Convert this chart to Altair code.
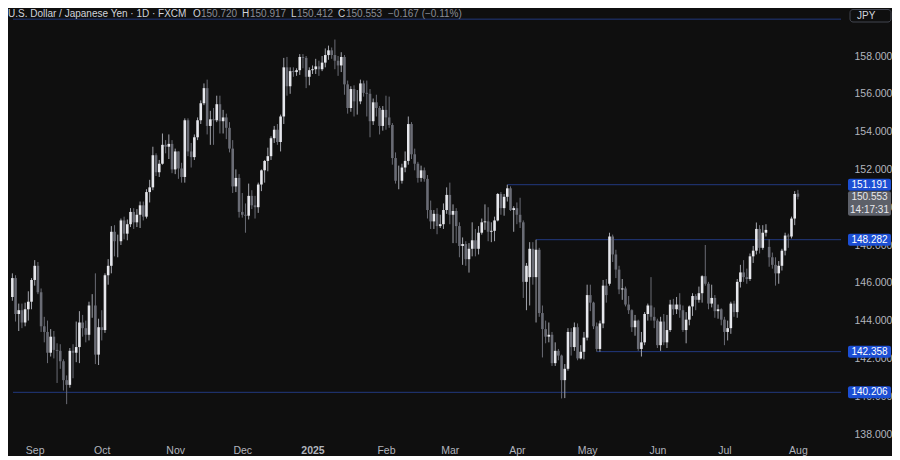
import altair as alt
import pandas as pd

# ---------------- data: daily USD/JPY candles (open, high, low, close) ----------------
AUG24 = [(145.25, 146.50, 145.05, 146.25), (146.25, 146.40, 143.95, 144.35), (144.35, 144.90, 143.45, 144.55),
         (144.55, 144.90, 143.60, 143.90), (143.90, 144.95, 143.70, 144.60), (144.60, 145.55, 144.00, 145.00),
         (145.00, 146.25, 144.60, 146.15)]
SEP24 = [(146.15, 147.20, 145.85, 146.90), (146.90, 147.10, 145.40, 145.50), (145.50, 145.70, 143.40, 143.70),
         (143.70, 144.20, 142.85, 143.40), (143.40, 144.00, 141.75, 142.30), (142.30, 143.55, 142.10, 143.15),
         (143.15, 143.45, 142.00, 142.45), (142.45, 142.80, 140.70, 142.40), (142.40, 142.75, 141.45, 141.85),
         (141.85, 141.95, 140.30, 140.85), (140.85, 141.10, 139.58, 140.60), (140.60, 142.55, 140.45, 142.40),
         (142.40, 142.75, 140.95, 142.30), (142.30, 143.95, 141.80, 142.60), (142.60, 144.50, 141.75, 143.90),
         (143.90, 144.30, 143.15, 143.60), (143.60, 144.00, 142.85, 143.25), (143.25, 145.00, 142.95, 144.80),
         (144.80, 145.40, 144.15, 144.80), (144.80, 146.50, 141.70, 142.20), (142.20, 144.10, 141.65, 143.65)]
OCT24 = [(143.65, 144.55, 142.95, 143.50), (143.50, 146.50, 143.35, 146.40), (146.40, 147.25, 145.90, 146.90),
         (146.90, 149.00, 146.50, 148.70), (148.70, 149.05, 147.40, 148.20), (148.20, 148.55, 147.35, 148.20),
         (148.20, 149.40, 148.00, 149.30), (149.30, 149.50, 148.30, 148.60), (148.60, 149.35, 148.25, 149.10),
         (149.10, 149.95, 148.95, 149.75), (149.75, 149.95, 148.85, 149.20), (149.20, 149.90, 148.95, 149.60),
         (149.60, 150.30, 148.90, 150.10), (150.10, 150.30, 149.30, 149.50), (149.50, 150.95, 149.40, 150.80),
         (150.80, 151.45, 150.25, 151.05), (151.05, 153.20, 150.90, 152.75), (152.75, 152.85, 151.65, 151.85),
         (151.85, 152.50, 151.60, 152.30), (152.30, 153.90, 152.25, 153.30), (153.30, 153.55, 152.85, 153.20),
         (153.20, 153.85, 152.55, 153.35), (153.35, 153.55, 151.80, 152.00)]
NOV24 = [(152.00, 153.10, 151.75, 152.95), (152.95, 152.95, 151.50, 152.05), (152.05, 152.35, 151.30, 151.60),
         (151.60, 154.70, 151.30, 154.60), (154.60, 154.70, 152.70, 152.95), (152.95, 153.40, 152.10, 152.65),
         (152.65, 153.85, 152.50, 153.70), (153.70, 154.75, 153.55, 154.60), (154.60, 155.65, 154.40, 155.50),
         (155.50, 156.55, 155.40, 156.30), (156.30, 156.75, 153.85, 154.30), (154.30, 155.10, 153.30, 154.65),
         (154.65, 155.25, 153.30, 154.60), (154.60, 155.90, 154.50, 155.45), (155.45, 155.90, 153.90, 154.55),
         (154.55, 155.15, 153.90, 154.75), (154.75, 154.95, 153.60, 154.20), (154.20, 154.50, 152.90, 153.10),
         (153.10, 153.55, 150.75, 151.10), (151.10, 152.00, 150.80, 151.55), (151.55, 151.75, 149.45, 149.75)]
DEC24 = [(149.75, 150.75, 149.45, 149.60), (149.60, 150.20, 148.65, 149.55), (149.55, 151.25, 149.35, 150.60),
         (150.60, 150.90, 149.90, 150.10), (150.10, 150.60, 149.40, 150.00), (150.00, 151.30, 149.70, 151.20),
         (151.20, 152.00, 150.85, 151.95), (151.95, 152.50, 151.30, 152.45), (152.45, 153.15, 151.90, 152.70),
         (152.70, 153.75, 152.50, 153.65), (153.65, 154.30, 153.40, 154.10), (154.10, 154.40, 153.30, 153.45),
         (153.45, 154.90, 152.95, 154.80), (154.80, 157.90, 154.40, 157.40), (157.40, 157.95, 155.90, 156.40),
         (156.40, 157.40, 156.00, 157.20), (157.20, 157.40, 156.90, 157.15), (157.15, 157.35, 156.95, 157.25),
         (157.25, 158.10, 157.00, 157.95), (157.95, 158.10, 157.35, 157.90), (157.90, 158.00, 156.30, 156.90),
         (156.90, 157.40, 156.45, 157.25)]
JAN25 = [(157.25, 157.50, 157.05, 157.30), (157.30, 157.85, 157.05, 157.45), (157.45, 157.75, 156.95, 157.30),
         (157.30, 158.00, 157.20, 157.65), (157.65, 158.40, 157.40, 158.05), (158.05, 158.55, 157.80, 158.30),
         (158.30, 158.45, 157.85, 158.05), (158.05, 158.87, 157.30, 157.75), (157.75, 158.00, 156.95, 157.50),
         (157.50, 158.20, 157.15, 157.95), (157.95, 158.05, 155.95, 156.50), (156.50, 156.70, 154.95, 155.25),
         (155.25, 156.40, 155.05, 156.25), (156.25, 156.45, 154.80, 155.60), (155.60, 156.20, 154.90, 155.60),
         (155.60, 156.75, 155.45, 156.55), (156.55, 156.70, 155.85, 156.05), (156.05, 156.70, 154.80, 156.00),
         (156.00, 156.25, 153.70, 154.55), (154.55, 155.75, 154.35, 155.55), (155.55, 155.95, 154.80, 155.25),
         (155.25, 155.35, 153.85, 154.30), (154.30, 155.35, 154.05, 155.15)]
FEB25 = [(155.15, 155.90, 154.10, 154.75), (154.75, 155.85, 154.20, 154.35), (154.35, 154.45, 152.25, 152.60),
         (152.60, 152.90, 151.25, 151.40), (151.40, 152.20, 150.95, 151.40), (151.40, 152.30, 151.25, 152.10),
         (152.10, 152.95, 151.85, 152.45), (152.45, 154.80, 152.25, 154.40), (154.40, 154.50, 152.55, 152.80),
         (152.80, 153.10, 151.95, 152.30), (152.30, 152.40, 151.30, 151.55), (151.55, 152.20, 151.35, 151.95),
         (151.95, 152.10, 151.35, 151.50), (151.50, 151.70, 149.40, 149.85), (149.85, 150.35, 148.85, 149.25),
         (149.25, 149.85, 148.85, 149.65), (149.65, 149.95, 148.57, 149.00), (149.00, 149.60, 148.90, 149.10),
         (149.10, 150.20, 148.85, 149.85), (149.85, 151.05, 149.65, 150.65)]
MAR25 = [(150.65, 151.30, 149.10, 149.60), (149.60, 150.15, 148.10, 149.80), (149.80, 149.95, 148.10, 149.00),
         (149.00, 149.20, 147.35, 147.95), (147.95, 148.40, 146.95, 148.05), (148.05, 148.20, 146.90, 147.25),
         (147.25, 148.10, 146.54, 147.80), (147.80, 149.20, 147.40, 148.25), (148.25, 148.85, 147.40, 147.80),
         (147.80, 149.00, 147.50, 148.65), (148.65, 149.40, 148.55, 149.20), (149.20, 150.15, 148.80, 149.25),
         (149.25, 150.00, 148.20, 148.70), (148.70, 149.20, 148.15, 148.75), (148.75, 149.50, 148.20, 149.30),
         (149.30, 150.75, 149.25, 150.70), (150.70, 150.80, 149.60, 149.95), (149.95, 150.70, 149.55, 150.55),
         (150.55, 151.19, 150.30, 151.00), (151.00, 151.10, 149.80, 149.85), (149.85, 150.05, 148.70, 149.95)]
APR25 = [(149.95, 150.25, 149.10, 149.60), (149.60, 150.50, 148.90, 149.20), (149.20, 149.30, 145.20, 146.05),
         (146.05, 147.05, 144.55, 146.90), (146.30, 148.15, 144.80, 147.80), (147.80, 148.15, 145.90, 146.30),
         (146.30, 148.28, 143.90, 147.75), (147.75, 147.85, 144.20, 144.40), (144.40, 144.80, 142.05, 143.55),
         (143.55, 144.00, 142.80, 143.15), (143.15, 143.90, 142.85, 143.25), (143.25, 143.40, 141.60, 141.75),
         (141.75, 142.85, 141.60, 142.40), (142.40, 142.50, 141.90, 142.15), (142.15, 142.20, 139.88, 140.85),
         (140.85, 141.70, 139.90, 141.45), (141.45, 143.60, 141.35, 143.40), (143.40, 143.60, 142.15, 142.60),
         (142.60, 143.90, 142.40, 143.65), (143.65, 143.85, 141.90, 142.00), (142.00, 142.70, 141.95, 142.35),
         (142.35, 143.40, 141.95, 143.10)]
MAY25 = [(143.10, 145.90, 142.95, 145.35), (145.35, 145.90, 144.50, 144.95), (144.95, 145.00, 143.55, 143.70),
         (143.70, 143.90, 142.36, 142.50), (142.50, 144.00, 142.35, 143.85), (143.85, 146.15, 143.60, 145.85),
         (145.85, 146.20, 144.95, 145.35), (145.95, 148.65, 145.85, 148.45), (148.45, 148.55, 147.10, 147.50),
         (147.50, 147.75, 146.25, 146.70), (146.70, 146.90, 145.40, 145.65), (145.65, 146.20, 145.10, 145.70),
         (145.70, 145.80, 144.75, 144.85), (144.85, 145.30, 144.35, 144.55), (144.55, 144.60, 143.40, 143.65),
         (143.65, 144.30, 143.20, 144.00), (144.00, 144.05, 142.40, 142.50), (142.50, 143.40, 142.10, 142.85),
         (142.85, 144.45, 142.70, 144.35), (144.35, 144.90, 144.00, 144.80), (144.80, 146.30, 144.00, 144.20),
         (144.20, 144.70, 143.60, 144.00)]
JUN25 = [(144.00, 144.10, 142.55, 142.70), (142.70, 144.20, 142.40, 143.95), (143.95, 144.35, 142.70, 142.85),
         (142.85, 144.30, 142.55, 143.50), (143.50, 145.10, 143.40, 144.85), (144.85, 145.15, 144.30, 144.60),
         (144.60, 145.25, 144.35, 144.85), (144.85, 145.45, 144.15, 144.55), (144.55, 144.80, 143.40, 143.50),
         (143.50, 144.45, 142.80, 144.05), (144.05, 144.80, 143.75, 144.75), (144.75, 145.45, 144.25, 145.30),
         (145.30, 145.40, 144.55, 145.10), (145.10, 145.80, 144.95, 145.45), (145.45, 146.40, 144.95, 146.35),
         (146.35, 148.00, 145.85, 145.95), (145.95, 146.05, 144.60, 144.90), (144.90, 145.90, 144.70, 145.20),
         (145.20, 145.35, 144.15, 144.50), (144.50, 144.85, 144.10, 144.60), (144.60, 144.65, 143.75, 144.05)]
JUL25 = [(144.05, 144.20, 142.70, 143.40), (143.40, 144.00, 142.95, 143.60), (143.60, 145.00, 143.30, 144.90),
         (144.90, 145.05, 144.20, 144.45), (144.45, 146.20, 144.15, 146.05), (146.05, 146.95, 145.75, 146.55),
         (146.55, 147.20, 146.05, 146.30), (146.30, 146.75, 145.95, 146.20), (146.20, 147.55, 146.10, 147.40),
         (147.40, 147.95, 147.05, 147.70), (147.70, 149.19, 147.50, 148.85), (148.85, 149.05, 147.55, 147.85),
         (147.85, 149.05, 147.75, 148.65), (148.65, 149.10, 148.45, 148.80), (147.90, 148.30, 146.85, 147.35),
         (147.35, 147.60, 146.75, 146.95), (146.95, 147.35, 145.85, 146.50), (146.50, 147.15, 145.95, 146.90),
         (146.90, 147.80, 146.65, 147.70), (147.70, 148.65, 147.45, 148.50), (148.50, 148.60, 147.85, 148.45),
         (148.45, 149.50, 148.35, 149.40), (149.40, 150.85, 149.05, 150.70)]
AUG25 = [(150.720, 150.917, 150.412, 150.553)]

MONTH_LABELS = ["Sep", "Oct", "Nov", "Dec", "2025", "Feb", "Mar", "Apr", "May", "Jun", "Jul", "Aug"]
PRICE_TICKS = [138, 140, 142, 144, 146, 148, 150, 152, 154, 156, 158]

LEVEL_PRICES = [159.95, 151.191, 148.282, 142.358, 140.206]
LEVEL_STARTS = [None, "2025-03-27", "2025-04-09", "2025-05-06", None]
LEVEL_LABELS = ["", "151.191", "148.282", "142.358", "140.206"]

LAST_PRICE = 150.553
LAST_PRICE_TEXT = "150.553"
COUNTDOWN = "14:17:31"
CURRENCY = "JPY"

HEADER_TITLE = "U.S. Dollar / Japanese Yen · 1D · FXCM"
OHLC_LETTERS = ["O", "H", "L", "C"]
OHLC_VALUES = ["150.720", "150.917", "150.412", "150.553"]
CHANGE_TEXT = "−0.167 (−0.11%)"

# ---------------- build tables ----------------
rows = [r for m in (AUG24, SEP24, OCT24, NOV24, DEC24, JAN25, FEB25, MAR25, APR25,
                    MAY25, JUN25, JUL25, AUG25) for r in m]
dates = pd.bdate_range("2024-08-22", "2025-08-01")
assert len(dates) == len(rows), (len(dates), len(rows))

df = pd.DataFrame(rows, columns=["open", "high", "low", "close"])
df["i"] = range(len(df))
df["date"] = dates.strftime("%Y-%m-%d")
df["dir"] = ["up" if c >= o else "down" for o, c in zip(df["open"], df["close"])]

month_key = dates.strftime("%Y-%m")
first_idx = df.groupby(month_key)["i"].min().sort_index().tolist()[1:]  # skip partial Aug 2024
assert len(first_idx) == len(MONTH_LABELS)

W, H = 838, 432
X_MIN, X_MAX = 0.2, 259.5
Y_MAX = 160.487
Y_MIN = 137.63

date_to_i = dict(zip(df["date"], df["i"]))
lv = pd.DataFrame({
    "price": LEVEL_PRICES,
    "i": [X_MIN if s is None else date_to_i[s] for s in LEVEL_STARTS],
    "ie": [X_MAX] * len(LEVEL_PRICES),
    "label": LEVEL_LABELS,
})
lv_lab = lv[lv["label"] != ""]

label_expr = " : ".join(f"datum.value == {v} ? '{t}'" for v, t in zip(first_idx, MONTH_LABELS)) + " : ''"
bold_idx = first_idx[MONTH_LABELS.index("2025")]

FONT = "Liberation Sans"
AX_COLOR = "#b2b5be"

x_axis = alt.Axis(values=first_idx, labelExpr=label_expr, ticks=False, domain=False, grid=False,
                  labelColor=AX_COLOR, labelFontSize=10.5, labelFont=FONT, labelPadding=4, title=None,
                  labelFontWeight={"condition": {"test": f"datum.value == {bold_idx}", "value": "bold"},
                                   "value": "normal"})
y_axis = alt.Axis(orient="right", values=PRICE_TICKS, format=".3f", ticks=False, domain=False, grid=False,
                  labelColor=AX_COLOR, labelFontSize=10.5, labelFont=FONT, labelPadding=8, title=None)
x_scale = alt.Scale(domain=[X_MIN, X_MAX], nice=False, zero=False)
y_scale = alt.Scale(domain=[Y_MIN, Y_MAX], nice=False, zero=False)

UP_BODY, DOWN_BODY = "#e6e7ec", "#6a6c75"
UP_WICK, DOWN_WICK = "#a3a5ad", "#6a6c75"
LINE_BLUE = "#22397f"
BOX_BLUE = "#1c4fd4"

levels = alt.Chart(lv).mark_rule(color=LINE_BLUE, strokeWidth=1).encode(
    x=alt.X("i:Q", scale=x_scale, axis=x_axis),
    x2="ie:Q",
    y=alt.Y("price:Q", scale=y_scale, axis=y_axis),
)

wicks = alt.Chart(df).mark_rule(strokeWidth=1, clip=True).encode(
    x=alt.X("i:Q", scale=x_scale, axis=x_axis),
    y=alt.Y("low:Q", scale=y_scale, axis=y_axis),
    y2="high:Q",
    color=alt.Color("dir:N", scale=alt.Scale(domain=["up", "down"], range=[UP_WICK, DOWN_WICK]), legend=None),
)

bodies = alt.Chart(df).mark_bar(size=2.6, clip=True).encode(
    x=alt.X("i:Q", scale=x_scale, axis=x_axis),
    y=alt.Y("open:Q", scale=y_scale, axis=y_axis),
    y2="close:Q",
    fill=alt.Fill("dir:N", scale=alt.Scale(domain=["up", "down"], range=[UP_BODY, DOWN_BODY]), legend=None),
)

# price labels on the right scale
lab_boxes = alt.Chart(lv_lab).mark_rect(color=BOX_BLUE, cornerRadius=2, yOffset=-6, y2Offset=6).encode(
    x=alt.value(W + 2), x2=alt.value(W + 45),
    y=alt.Y("price:Q", scale=y_scale, axis=y_axis), y2="price:Q",
)
lab_text = alt.Chart(lv_lab).mark_text(color="#ffffff", fontSize=10, font=FONT, align="center",
                                       baseline="middle").encode(
    x=alt.value(W + 23.5), y=alt.Y("price:Q", scale=y_scale, axis=y_axis), text="label:N",
)

cur = pd.DataFrame({"price": [LAST_PRICE], "t1": [LAST_PRICE_TEXT], "t2": [COUNTDOWN]})
cur_box = alt.Chart(cur).mark_rect(color="#5d6069", cornerRadius=2, yOffset=-5.5, y2Offset=19).encode(
    x=alt.value(W + 2), x2=alt.value(W + 45),
    y=alt.Y("price:Q", scale=y_scale, axis=y_axis), y2="price:Q",
)
cur_t1 = alt.Chart(cur).mark_text(color="#e8e8ec", fontSize=10, font=FONT, align="center",
                                  baseline="middle").encode(
    x=alt.value(W + 23.5), y=alt.Y("price:Q", scale=y_scale, axis=y_axis), text="t1:N")
cur_t2 = alt.Chart(cur).mark_text(color="#e8e8ec", fontSize=10, font=FONT, align="center",
                                  baseline="middle", dy=13).encode(
    x=alt.value(W + 23.5), y=alt.Y("price:Q", scale=y_scale, axis=y_axis), text="t2:N")

one = pd.DataFrame({"k": [0]})
jpy_box = alt.Chart(one).mark_rect(fill="#0f0f0f", stroke="#434651", strokeWidth=1, cornerRadius=3).encode(
    x=alt.value(W + 4), x2=alt.value(W + 45), y=alt.value(0.5), y2=alt.value(13))
jpy_text = alt.Chart(one).mark_text(color="#d1d4dc", fontSize=10, font=FONT, align="left",
                                    baseline="middle").encode(
    x=alt.value(W + 11), y=alt.value(7), text=alt.value(CURRENCY))

# header
TITLE_COLOR, VAL_COLOR = "#d1d4dc", "#8a8d97"
HDR_SIZE = 10
HDR_Y = 4.5
hdr = [alt.Chart(one).mark_text(color=TITLE_COLOR, fontSize=HDR_SIZE, font=FONT, align="left",
                                baseline="middle").encode(
    x=alt.value(0), y=alt.value(HDR_Y), text=alt.value(HEADER_TITLE))]
letter_x = [185, 234, 283, 330]
for lx, letter, val in zip(letter_x, OHLC_LETTERS, OHLC_VALUES):
    hdr.append(alt.Chart(one).mark_text(color=TITLE_COLOR, fontSize=HDR_SIZE, font=FONT, align="left",
                                        baseline="middle").encode(
        x=alt.value(lx), y=alt.value(HDR_Y), text=alt.value(letter)))
    hdr.append(alt.Chart(one).mark_text(color=VAL_COLOR, fontSize=HDR_SIZE, font=FONT, align="left",
                                        baseline="middle").encode(
        x=alt.value(lx + (6 if letter == "L" else 8)), y=alt.value(HDR_Y), text=alt.value(val)))
hdr.append(alt.Chart(one).mark_text(color=VAL_COLOR, fontSize=HDR_SIZE, font=FONT, align="left",
                                    baseline="middle").encode(
    x=alt.value(380), y=alt.value(HDR_Y), text=alt.value(CHANGE_TEXT)))

chart = alt.layer(levels, wicks, bodies, lab_boxes, lab_text, cur_box, cur_t1, cur_t2,
                  jpy_box, jpy_text, *hdr).properties(
    width=W, height=H, background="#0f0f0f", padding=0
).configure_view(stroke=None)

chart.save("out.html", embed_options={"renderer": "svg", "actions": False})
